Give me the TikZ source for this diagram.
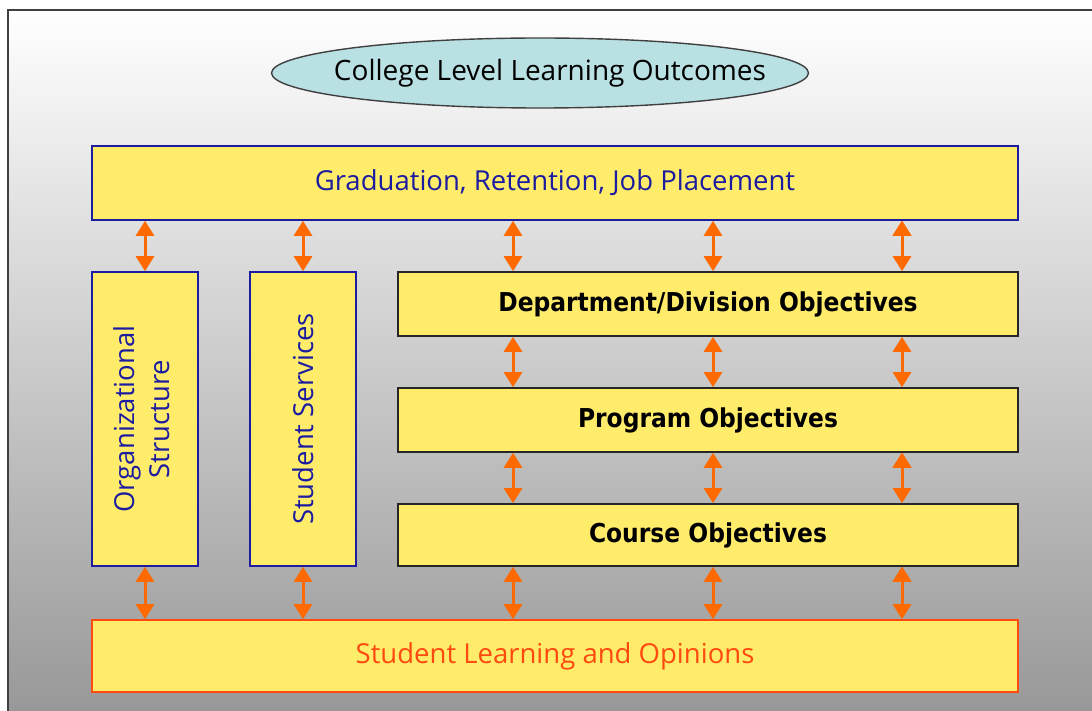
\documentclass[tikz,border=0pt]{standalone}
\usepackage{fontspec}
\setmainfont{Open Sans}
\newfontfamily\objfont{DejaVu Sans Condensed}
\usetikzlibrary{shapes.geometric,arrows.meta}

\definecolor{boxyellow}{HTML}{FFEC6B}
\definecolor{lineblue}{HTML}{1C1CA0}
\definecolor{arroworange}{HTML}{FF6A00}
\definecolor{learnred}{HTML}{FF4A10}
\definecolor{ovalcyan}{HTML}{B9E0E3}
\definecolor{bggray}{HTML}{979797}

\begin{document}
\begin{tikzpicture}[x=1pt, y=-1pt,
    bluebox/.style={draw=lineblue, fill=boxyellow, line width=1.6pt, text=lineblue,
                    inner sep=0pt, font=\fontsize{27.5}{35}\selectfont},
    objbox/.style={draw=black!85, fill=boxyellow, line width=1.6pt,
                   minimum width=620pt, inner sep=0pt,
                   font=\objfont\bfseries\fontsize{26}{30}\selectfont},
    link/.style={color=arroworange, line width=3pt,
                 {Triangle[length=15pt,width=18pt]}-{Triangle[length=15pt,width=18pt]}}]
  \useasboundingbox (0, 0) rectangle (1092, 711);
  % background and frame
  \shade[top color=white, bottom color=bggray] (8, 10) rectangle (1100, 720);
  \draw[black!75, line width=1.6pt] (1100, 10) -- (8, 10) -- (8, 720);
  % boxes
  \node (outcomes) [ellipse, draw=black!75, fill=ovalcyan, line width=1.4pt,
        minimum width=537pt, minimum height=70pt, inner sep=0pt,
        font=\fontsize{28}{32}\selectfont] at (540, 73)
        {\makebox[0pt]{\hspace{20pt}College Level Learning Outcomes}};
  \node (grad) [bluebox, minimum width=926pt, minimum height=74pt] at (555, 183)
        {Graduation, Retention, Job Placement};
  \node (org) [bluebox, minimum width=106pt, minimum height=294pt] at (145, 419)
        {\rotatebox{90}{\begin{tabular}{@{}c@{}}Organizational\\Structure\end{tabular}}};
  \node (serv) [bluebox, minimum width=106pt, minimum height=294pt] at (303, 419)
        {\rotatebox{90}{Student Services}};
  \node (dept) [objbox, minimum height=64pt] at (708, 304) {Department/Division Objectives};
  \node (prog) [objbox, minimum height=64pt] at (708, 420) {Program Objectives};
  \node (course) [objbox, minimum height=62pt] at (708, 535) {Course Objectives};
  \node (learn) [bluebox, draw=learnred, text=learnred, minimum width=926pt,
        minimum height=72pt] at (555, 656) {Student Learning and Opinions};
  % arrow columns
  \coordinate (c1) at (513, 0);
  \coordinate (c2) at (713, 0);
  \coordinate (c3) at (902, 0);
  % arrows
  \draw[link] (grad.south -| org.north) edge (org.north)
              (grad.south -| serv.north) edge (serv.north)
              (grad.south -| c1) edge (dept.north -| c1)
              (grad.south -| c2) edge (dept.north -| c2)
              (grad.south -| c3) edge (dept.north -| c3);
  \draw[link] (dept.south -| c1) edge (prog.north -| c1)
              (dept.south -| c2) edge (prog.north -| c2)
              (dept.south -| c3) edge (prog.north -| c3)
              (prog.south -| c1) edge (course.north -| c1)
              (prog.south -| c2) edge (course.north -| c2)
              (prog.south -| c3) edge (course.north -| c3);
  \draw[link] (org.south) edge (learn.north -| org.south)
              (serv.south) edge (learn.north -| serv.south)
              (course.south -| c1) edge (learn.north -| c1)
              (course.south -| c2) edge (learn.north -| c2)
              (course.south -| c3) edge (learn.north -| c3);
\end{tikzpicture}
\end{document}
